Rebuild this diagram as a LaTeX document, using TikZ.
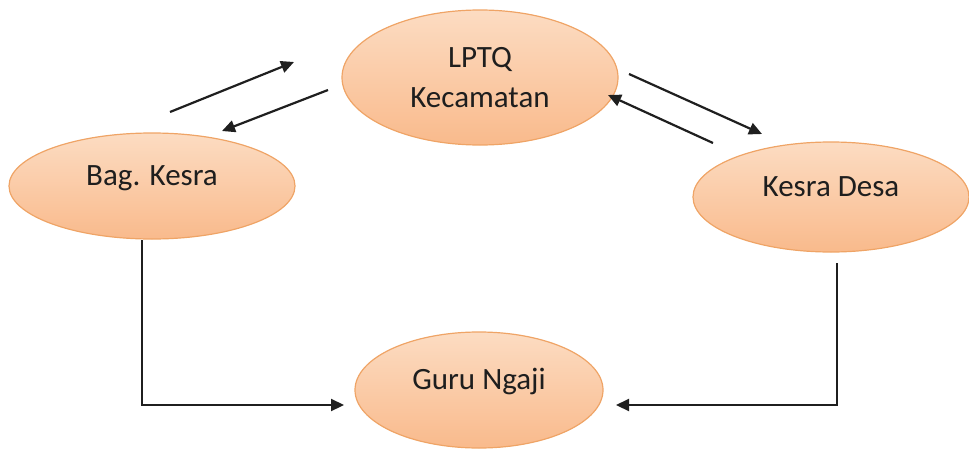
\documentclass[tikz,border=0pt]{standalone}
\usepackage{fontspec}
\setmainfont{Carlito}
\usetikzlibrary{shapes.geometric,arrows.meta}
\definecolor{ellborder}{HTML}{EFA466}
\definecolor{elltop}{HTML}{FCDCC2}
\definecolor{ellbot}{HTML}{F9BA8C}
\definecolor{txt}{HTML}{1E1E1E}
\tikzset{
  ell/.style={ellipse, draw=ellborder, line width=1.2pt, top color=elltop, bottom color=ellbot,
    inner sep=0pt, align=center, text=txt,
    font=\fontsize{31}{40}\selectfont},
  raised/.style={text height=20pt, text depth=21pt},
  conn/.style={line width=2.2pt, draw=black!88, -{Triangle[length=13pt,width=12pt]}},
}
\begin{document}
\begin{tikzpicture}[x=1pt,y=-1pt]
\useasboundingbox (0,0) rectangle (969,450);
\node[ell, minimum width=276pt, minimum height=135pt] (lptq) at (480,77.5) {LPTQ\\Kecamatan};
\node[ell, raised, minimum width=286pt, minimum height=106pt] (bag) at (152,186) {Bag. Kesra};
\node[ell, raised, minimum width=276pt, minimum height=110pt] (desa) at (831,197) {Kesra Desa};
\node[ell, raised, minimum width=248pt, minimum height=116pt] (guru) at (479,390) {Guru Ngaji};
% free ends of the short diagonal arrows
\coordinate (a1s) at (170,112); \coordinate (a1e) at (294,62);
\coordinate (a2s) at (328,90);  \coordinate (a2e) at (222,131);
\coordinate (a3s) at (629,74);  \coordinate (a3e) at (762,134);
\coordinate (a4s) at (713,143); \coordinate (a4e) at (608,95);
\coordinate (lb) at (142,240); \coordinate (lg) at (344,405);
\coordinate (rb) at (837,263); \coordinate (rg) at (616,405);
\draw[conn] (a1s) -- (a1e);
\draw[conn] (a2s) -- (a2e);
\draw[conn] (a3s) -- (a3e);
\draw[conn] (a4s) -- (a4e);
\draw[conn] (lb) |- (lg);
\draw[conn] (rb) |- (rg);
\end{tikzpicture}
\end{document}
